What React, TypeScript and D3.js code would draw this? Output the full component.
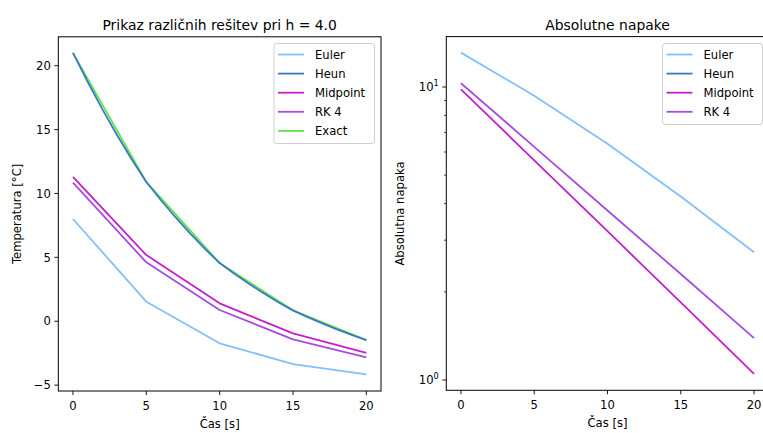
import React from "react";
import * as d3 from "d3";

const W = 763;
const H = 433;
const FONT = "DejaVu Sans, sans-serif";

// nodes for the coarse methods
const tNodes = [0, 5, 10, 15, 20];
const euler = [8.0, 1.53, -1.73, -3.35, -4.16];
const midpoint = [11.3, 5.18, 1.4, -0.95, -2.47];
const rk4 = [10.85, 4.61, 0.88, -1.42, -2.83];
const exact = [21.0, 10.9, 4.55, 0.85, -1.48];

// heun is drawn as a smooth curve (1 s spacing)
const tFine = [0, 1, 2, 3, 4, 5, 6, 7, 8, 9, 10, 11, 12, 13, 14, 15, 16, 17, 18, 19, 20];
const heun = [
  21.0, 18.74, 16.6, 14.58, 12.68, 10.9, 9.47, 8.12, 6.85, 5.66, 4.55,
  3.71, 2.93, 2.19, 1.49, 0.85, 0.32, -0.17, -0.64, -1.07, -1.48
];

// absolute errors (right panel, log axis). heun error is 0 -> not shown on log axis
const eulerErr = [13.1, 9.34, 6.4, 4.23, 2.73];
const heunErr = [0, 0, 0, 0, 0];
const midpointErr = [9.82, 5.62, 3.22, 1.84, 1.05];
const rk4Err = [10.3, 6.25, 3.79, 2.3, 1.39];

const xTicks = [0, 5, 10, 15, 20];
const yTicksLeft = [-5, 0, 5, 10, 15, 20];
const yMajorRight = [1, 10];
const yMinorRight = [2, 3, 4, 5, 6, 7, 8, 9];

const colors = {
  Euler: "#80c0ff",
  Heun: "#3a78c8",
  Midpoint: "#c420c8",
  "RK 4": "#a64ce0",
  Exact: "#5ae646"
};

const left = { x0: 58.3, x1: 381, y0: 36.8, y1: 391 };
const right = { x0: 446.3, x1: 768.7, y0: 36.6, y1: 390.3 };

const xL = d3.scaleLinear().domain([-1, 21]).range([left.x0, left.x1]);
const yL = d3.scaleLinear().domain([-5.46, 22.26]).range([left.y1, left.y0]);
const xR = d3.scaleLinear().domain([-1, 21]).range([right.x0, right.x1]);
const yR = d3
  .scaleLog()
  .domain([Math.pow(10, -0.035), Math.pow(10, 1.172)])
  .range([right.y1, right.y0]);

function pathOf(xs: number[], ys: number[], sx: any, sy: any, log = false) {
  const pts: [number, number][] = [];
  xs.forEach((x, i) => {
    if (log && !(ys[i] > 0)) return;
    pts.push([sx(x), sy(ys[i])]);
  });
  if (pts.length < 2) return null;
  return d3.line()(pts);
}

function Legend({ x, y, w, h, names }: any) {
  return (
    <g>
      <rect
        x={x}
        y={y}
        width={w}
        height={h}
        rx={2.5}
        fill="white"
        fillOpacity={0.8}
        stroke="#d0d0d0"
        strokeWidth={1}
      />
      {names.map((n: string, i: number) => {
        const cy = y + 11 + i * 19.1;
        return (
          <g key={n}>
            <line x1={x + 4} x2={x + 30} y1={cy} y2={cy} stroke={(colors as any)[n]} strokeWidth={1.8} />
            <text x={x + 41} y={cy + 4.2} fontSize={11.6} fontFamily={FONT} fill="#000">
              {n}
            </text>
          </g>
        );
      })}
    </g>
  );
}

function Frame({ box }: any) {
  return (
    <rect
      x={box.x0}
      y={box.y0}
      width={box.x1 - box.x0}
      height={box.y1 - box.y0}
      fill="none"
      stroke="#000"
      strokeWidth={1}
    />
  );
}

function XAxis({ box, sx }: any) {
  return (
    <g>
      {xTicks.map(t => (
        <g key={t}>
          <line x1={sx(t)} x2={sx(t)} y1={box.y1} y2={box.y1 + 4} stroke="#000" strokeWidth={0.9} />
          <text x={sx(t)} y={box.y1 + 18.5} textAnchor="middle" fontSize={11.6} fontFamily={FONT}>
            {t}
          </text>
        </g>
      ))}
      <text x={(box.x0 + box.x1) / 2} y={box.y1 + 37} textAnchor="middle" fontSize={11.6} fontFamily={FONT}>
        Čas [s]
      </text>
    </g>
  );
}

export default function App() {
  const series = [
    { name: "Euler", d: pathOf(tNodes, euler, xL, yL) },
    { name: "Midpoint", d: pathOf(tNodes, midpoint, xL, yL) },
    { name: "RK 4", d: pathOf(tNodes, rk4, xL, yL) },
    { name: "Exact", d: pathOf(tNodes, exact, xL, yL) },
    { name: "Heun", d: pathOf(tFine, heun, xL, yL) }
  ];
  const errSeries = [
    { name: "Euler", d: pathOf(tNodes, eulerErr, xR, yR, true) },
    { name: "Heun", d: pathOf(tNodes, heunErr, xR, yR, true) },
    { name: "Midpoint", d: pathOf(tNodes, midpointErr, xR, yR, true) },
    { name: "RK 4", d: pathOf(tNodes, rk4Err, xR, yR, true) }
  ];

  return (
    <svg
      width={W}
      height={H}
      style={{ position: "absolute", left: 0, top: 0, background: "white" }}
      fontFamily={FONT}
    >
      <rect width={W} height={H} fill="white" />

      {/* left panel */}
      <text x={(left.x0 + left.x1) / 2} y={29.5} textAnchor="middle" fontSize={13.9} fontFamily={FONT}>
        Prikaz različnih rešitev pri h = 4.0
      </text>
      {series.map(s =>
        s.d ? (
          <path key={s.name} d={s.d} fill="none" stroke={(colors as any)[s.name]} strokeWidth={1.8} strokeLinejoin="round" />
        ) : null
      )}
      <Frame box={left} />
      <XAxis box={left} sx={xL} />
      {yTicksLeft.map(t => (
        <g key={t}>
          <line x1={left.x0 - 4} x2={left.x0} y1={yL(t)} y2={yL(t)} stroke="#000" strokeWidth={0.9} />
          <text x={left.x0 - 7.5} y={yL(t) + 4.2} textAnchor="end" fontSize={11.6} fontFamily={FONT}>
            {t < 0 ? "\u2212" + Math.abs(t) : t}
          </text>
        </g>
      ))}
      <text
        transform={`translate(21,${(left.y0 + left.y1) / 2}) rotate(-90)`}
        textAnchor="middle"
        fontSize={11.6}
        fontFamily={FONT}
      >
        Temperatura [°C]
      </text>
      <Legend x={274} y={43.5} w={100.5} h={100} names={["Euler", "Heun", "Midpoint", "RK 4", "Exact"]} />

      {/* right panel */}
      <text x={(right.x0 + right.x1) / 2} y={29.5} textAnchor="middle" fontSize={13.9} fontFamily={FONT}>
        Absolutne napake
      </text>
      {errSeries.map(s =>
        s.d ? (
          <path key={s.name} d={s.d} fill="none" stroke={(colors as any)[s.name]} strokeWidth={1.8} strokeLinejoin="round" />
        ) : null
      )}
      <Frame box={right} />
      <XAxis box={right} sx={xR} />
      {yMinorRight.map(t => (
        <line key={t} x1={right.x0 - 2.3} x2={right.x0} y1={yR(t)} y2={yR(t)} stroke="#000" strokeWidth={0.7} />
      ))}
      {yMajorRight.map((t, i) => (
        <g key={t}>
          <line x1={right.x0 - 4} x2={right.x0} y1={yR(t)} y2={yR(t)} stroke="#000" strokeWidth={0.9} />
          <text x={right.x0 - 7.5} y={yR(t) + 4.2} textAnchor="end" fontSize={11.6} fontFamily={FONT}>
            10
            <tspan dy={-5} fontSize={8.2}>
              {i}
            </tspan>
          </text>
        </g>
      ))}
      <text
        transform={`translate(404,${(right.y0 + right.y1) / 2}) rotate(-90)`}
        textAnchor="middle"
        fontSize={11.6}
        fontFamily={FONT}
      >
        Absolutna napaka
      </text>
      <Legend x={662.5} y={43.5} w={100} h={81} names={["Euler", "Heun", "Midpoint", "RK 4"]} />
    </svg>
  );
}
